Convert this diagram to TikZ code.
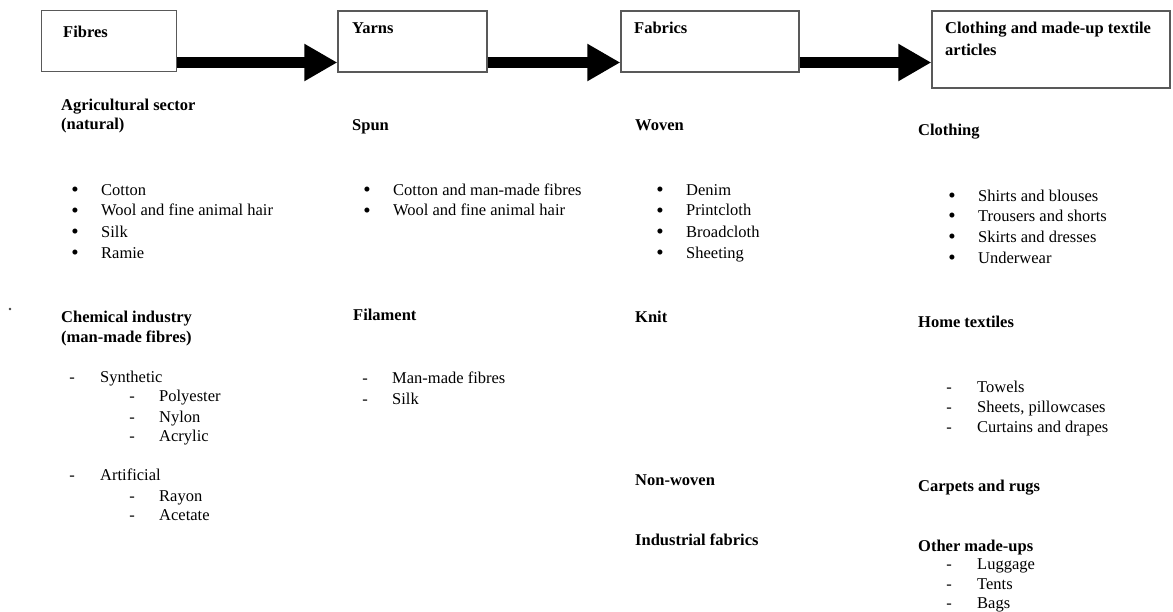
\documentclass[tikz,border=0pt]{standalone}
\usepackage{fontspec}
\setmainfont{Liberation Serif}
\usetikzlibrary{arrows.meta}
\tikzset{
  stage/.style={draw=black!65, line width=1.3pt, inner sep=0pt, fill=white},
  txt/.style={anchor=base west, inner sep=0pt, font=\fontsize{16.5}{20}\selectfont},
  hd/.style={anchor=base west, inner sep=0pt, font=\fontsize{16.5}{20}\selectfont\bfseries},
  listmark/.style={anchor=base, inner sep=0pt, font=\fontsize{16.5}{20}\selectfont},
  bigmark/.style={anchor=base, inner sep=0pt, yshift=-1.6pt, font=\fontsize{21}{24}\selectfont},
  flow/.style={line width=11pt, -{Triangle[length=33pt,width=35pt]}},
}
\newcommand\bulitem[5]{\node[bigmark] (#1m) at (#2,#4) {•}; \node[txt] (#1) at (#3,#4) {#5};}
\newcommand\dashitem[5]{\node[listmark] (#1m) at (#2,#4) {-}; \node[txt] (#1) at (#3,#4) {#5};}
\begin{document}
\begin{tikzpicture}[x=1pt,y=-1pt]
\useasboundingbox (0,0) rectangle (1173,611);
% stage boxes
\node[stage, minimum width=135pt, minimum height=61pt] (fib) at (109.2,41.2) {};
\node[stage, minimum width=149pt, minimum height=61pt] (yarn) at (412.5,41.5) {};
\node[stage, minimum width=178pt, minimum height=61pt] (fab) at (710,41.5) {};
\node[stage, minimum width=238pt, minimum height=77pt] (clo) at (1051,49.5) {};
\node[hd] (fibt) at (63,37) {Fibres};
\node[hd] (yarnt) at (352,33) {Yarns};
\node[hd] (fabt) at (634,33) {Fabrics};
\node[hd] (clot1) at (945,33) {Clothing and made-up textile};
\node[hd] (clot2) at (945,55) {articles};
% arrows
\coordinate (ay) at (0,62.5);
\draw[flow] (fib.east |- ay) -- (yarn.west |- ay);
\draw[flow] (yarn.east |- ay) -- (fab.west |- ay);
\draw[flow] (fab.east |- ay) -- (clo.west |- ay);
% stray dot
\fill[black!75] (10,309) circle (1.4pt);
% column 1
\node[hd] (agr1) at (61,110) {Agricultural sector};
\node[hd] (agr2) at (61,129) {(natural)};
\bulitem{a1}{75}{101}{195}{Cotton}
\bulitem{a2}{75}{101}{215.5}{Wool and fine animal hair}
\bulitem{a3}{75}{101}{237}{Silk}
\bulitem{a4}{75}{101}{258}{Ramie}
\node[hd] (chem1) at (61,322) {Chemical industry};
\node[hd] (chem2) at (61,342) {(man-made fibres)};
\dashitem{s0}{72}{100}{382}{Synthetic}
\dashitem{s1}{132}{159}{401}{Polyester}
\dashitem{s2}{132}{159}{422}{Nylon}
\dashitem{s3}{132}{159}{441}{Acrylic}
\dashitem{r0}{72}{100}{480}{Artificial}
\dashitem{r1}{132}{159}{501}{Rayon}
\dashitem{r2}{132}{159}{520}{Acetate}
% column 2
\node[hd] (spun) at (352,130) {Spun};
\bulitem{y1}{367}{393}{195}{Cotton and man-made fibres}
\bulitem{y2}{367}{393}{215.5}{Wool and fine animal hair}
\node[hd] (fil) at (353,320) {Filament};
\dashitem{f1}{365}{392}{383}{Man-made fibres}
\dashitem{f2}{365}{392}{404}{Silk}
% column 3
\node[hd] (wov) at (635,130) {Woven};
\bulitem{w1}{660}{686}{195}{Denim}
\bulitem{w2}{660}{686}{215.5}{Printcloth}
\bulitem{w3}{660}{686}{237}{Broadcloth}
\bulitem{w4}{660}{686}{258}{Sheeting}
\node[hd] (knit) at (635,322) {Knit};
\node[hd] (nonw) at (635,485) {Non-woven};
\node[hd] (ind) at (635,545) {Industrial fabrics};
% column 4
\node[hd] (cloh) at (918,135) {Clothing};
\bulitem{c1}{952}{978}{201}{Shirts and blouses}
\bulitem{c2}{952}{978}{221}{Trousers and shorts}
\bulitem{c3}{952}{978}{242}{Skirts and dresses}
\bulitem{c4}{952}{978}{263}{Underwear}
\node[hd] (home) at (918,327) {Home textiles};
\dashitem{h1}{949}{977}{392}{Towels}
\dashitem{h2}{949}{977}{412}{Sheets, pillowcases}
\dashitem{h3}{949}{977}{432}{Curtains and drapes}
\node[hd] (carp) at (918,491) {Carpets and rugs};
\node[hd] (oth) at (918,551) {Other made-ups};
\dashitem{o1}{949}{977}{569}{Luggage}
\dashitem{o2}{949}{977}{589}{Tents}
\dashitem{o3}{949}{977}{608}{Bags}
\end{tikzpicture}
\end{document}
